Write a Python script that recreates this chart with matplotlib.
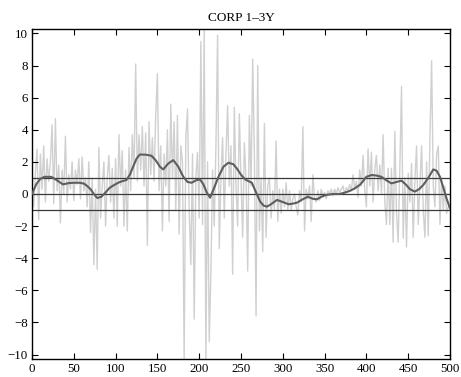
import numpy as np
import matplotlib
matplotlib.use("Agg")
import matplotlib.pyplot as plt

# Noisy series (read every 2 units)
noise_x = list(range(0, 500, 2))
noise_y = [
    0.5, -0.8, 1.2, 2.8, -1.6, 2.5, 0.3, 3.0, -0.5, 2.2,
    0.8, 2.0, 4.3, -0.6, 4.7, 0.2, 1.8, -1.8, 1.5, 0.0,
    3.6, -0.5, 1.2, 0.3, 2.0, -0.4, 1.5, 0.6, 2.2, -0.3,
    2.3, 0.2, 1.0, -0.8, 2.0, -2.4, 1.0, -4.4, 0.3, -4.7,
    2.9, -1.5, 0.5, 2.0, -2.0, 1.0, 2.4, -0.5, 1.6, -1.5,
    2.2, -2.0, 3.7, 0.5, 2.7, -2.0, 1.5, -2.3, 2.9, 0.2,
    3.7, 1.0, 8.1, 0.8, 3.7, 1.5, 4.2, 0.5, 3.8, -3.2,
    4.5, 1.2, 3.5, 0.8, 4.9, 7.5, 0.2, 3.0, -2.3, 2.5,
    0.5, 4.0, -1.7, 5.6, 1.0, 4.5, -1.0, 4.9, -2.5, 3.0,
    2.0, -10.3, 3.5, 5.3, -1.0, -4.4, 2.5, -7.8, 1.0, 2.6,
    -1.5, 9.5, -1.9, 10.3, -10.3, 2.0, -9.2, -4.9, 1.5, -2.0,
    3.0, 9.9, -3.4, 1.0, 3.5, -1.5, 2.5, 5.5, 0.5, 3.0,
    -5.0, 5.4, 0.5, -2.0, 5.0, 1.0, -2.7, 3.2, 1.0, -4.8,
    4.9, 0.5, 8.4, 2.5, -7.6, 8.0, -2.3, 1.0, -3.6, 4.4,
    -2.7, 0.5, 1.0, -1.5, 0.2, -1.0, 3.3, -1.7, 0.3, -1.2,
    0.3, -0.8, 0.7, -1.0, 0.2, -1.0, -0.3, 0.0, -0.8, -1.3,
    0.2, -0.5, 4.2, -2.3, 0.3, -0.3, 0.5, -1.7, 1.2, -0.3,
    -0.5, 0.2, -0.4, 0.3, -0.2, 0.1, -0.3, 0.2, 0.0, 0.3,
    -0.1, 0.3, 0.0, 0.4, 0.1, 0.3, 0.5, 0.0, 0.4, 0.2,
    0.6, 0.2, 1.2, 0.3, 0.8, -0.2, 1.5, 0.5, 2.4, 0.3,
    -0.8, 2.8, 0.5, 2.6, -0.5, 1.5, 2.4, 0.2, 1.8, 0.0,
    3.7, -0.5, -1.9, 1.6, -1.9, 1.6, -3.0, 3.9, -1.2, -3.0,
    1.6, 6.7, -2.75, 1.0, -3.3, 1.3, -0.5, 1.9, -2.7, 0.8,
    3.0, -1.9, 0.5, 3.0, -1.0, -2.7, 2.0, -2.6, 3.5, 8.3,
    0.5, -0.8, 2.5, 3.0, -1.9, 1.0, -1.0, 0.5, -1.2, -0.8,
]

# Smoothed series
smooth_x = [0, 5, 10, 15, 23, 30, 37, 44, 50, 57, 62, 66, 70, 74, 78, 83, 88, 93, 98,
            103, 108, 113, 117, 121, 125, 129, 136, 143, 148, 153, 157, 163, 169, 175,
            181, 186, 191, 196, 201, 205, 209, 213, 218, 223, 229, 235, 241, 245, 250,
            255, 259, 263, 268, 273, 277, 281, 287, 293, 300, 307, 312, 317, 323, 330,
            336, 341, 347, 352, 360, 368, 375, 380, 386, 392, 396, 400, 406, 412, 418,
            424, 430, 436, 442, 447, 452, 458, 463, 468, 474, 480, 484, 488, 492, 496, 500]
smooth_y = [0.0, 0.6, 0.95, 1.07, 1.07, 0.85, 0.6, 0.68, 0.7, 0.7, 0.65, 0.5, 0.3, 0.0, -0.25,
            -0.17, 0.1, 0.39, 0.55, 0.7, 0.8, 0.87, 1.2, 1.7, 2.2, 2.46, 2.45, 2.38, 2.1, 1.7,
            1.53, 1.9, 2.11, 1.7, 1.07, 0.75, 0.7, 0.85, 0.91, 0.6, 0.1, -0.23, 0.4, 1.07, 1.7,
            1.95, 1.85, 1.59, 1.2, 0.91, 0.8, 0.7, 0.1, -0.48, -0.72, -0.79, -0.6, -0.37, -0.5,
            -0.64, -0.6, -0.54, -0.35, -0.17, -0.3, -0.33, -0.15, -0.06, 0.0, 0.0, 0.1, 0.19,
            0.35, 0.56, 0.8, 1.07, 1.18, 1.15, 1.07, 0.85, 0.66, 0.75, 0.83, 0.6, 0.3, 0.15,
            0.3, 0.56, 1.0, 1.53, 1.45, 1.07, 0.4, -0.3, -0.89]

band_levels = [1, 0, -1]
x_ticks = list(range(0, 501, 50))
y_ticks = list(range(-10, 11, 2))
title = "CORP 1\u20133Y"

plt.rcParams['font.family'] = ['Liberation Serif', 'DejaVu Serif']
plt.rcParams['axes.unicode_minus'] = True

fig = plt.figure(figsize=(4.61, 3.77), dpi=100)
ax = fig.add_axes([32/461, 18/377, 418/461, 330/377])

ax.plot(noise_x, noise_y, color='#d0d0d0', lw=1.0, zorder=1)
for lv in band_levels:
    ax.axhline(lv, color='#3a3a3a', lw=0.9, zorder=2)
ax.plot(smooth_x, smooth_y, color='#5e5e5e', lw=1.5, zorder=3)

ax.set_xlim(0, 500)
ax.set_ylim(-10.28, 10.28)
ax.set_xticks(x_ticks)
ax.set_yticks(y_ticks)
ax.tick_params(direction='in', top=True, right=True, length=4, width=0.8,
               labelsize=9.3, pad=3)
for s in ax.spines.values():
    s.set_linewidth(1.0)
ax.set_title(title, fontsize=9.5, pad=6)

fig.savefig("out.png", dpi=100)
